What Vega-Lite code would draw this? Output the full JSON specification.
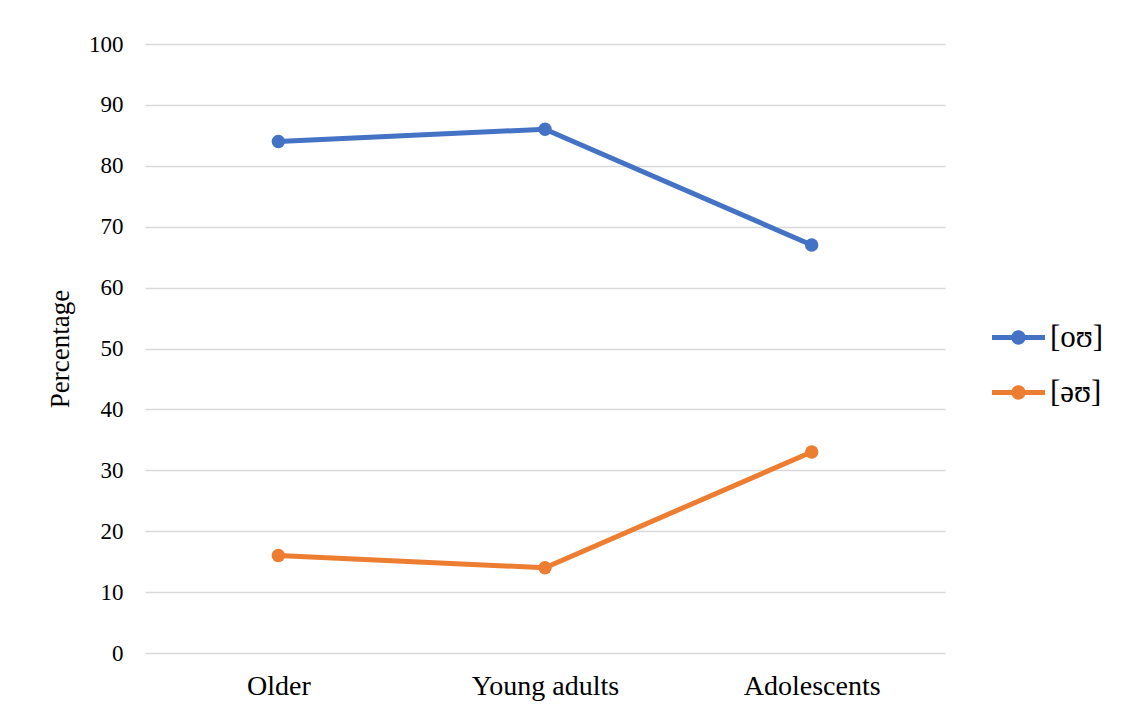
{
  "$schema": "https://vega.github.io/schema/vega-lite/v6.json",
  "width": 800,
  "height": 609,
  "autosize": {"type": "none"},
  "padding": {"left": 145, "top": 44, "right": 185, "bottom": 60},
  "background": "white",
  "config": {
    "font": "Liberation Serif",
    "view": {"stroke": null},
    "axis": {"labelFont": "Liberation Serif", "titleFont": "Liberation Serif", "labelColor": "#000000", "titleColor": "#000000"},
    "legend": {"labelFont": "Liberation Serif", "labelColor": "#000000"}
  },
  "data": {
    "values": [
      {"group": "Older", "variant": "[oʊ]", "pct": 84},
      {"group": "Young adults", "variant": "[oʊ]", "pct": 86},
      {"group": "Adolescents", "variant": "[oʊ]", "pct": 67},
      {"group": "Older", "variant": "[əʊ]", "pct": 16},
      {"group": "Young adults", "variant": "[əʊ]", "pct": 14},
      {"group": "Adolescents", "variant": "[əʊ]", "pct": 33}
    ]
  },
  "encoding": {
    "x": {
      "field": "group", "type": "nominal", "sort": ["Older", "Young adults", "Adolescents"],
      "scale": {"type": "point", "padding": 0.5},
      "axis": {"title": null, "labelAngle": 0, "labelFontSize": 28, "labelPadding": 19, "ticks": false, "domain": false, "grid": false}
    },
    "y": {
      "field": "pct", "type": "quantitative",
      "scale": {"domain": [0, 100]},
      "axis": {"title": "Percentage", "titleFontSize": 27, "titleFontWeight": "normal", "titlePadding": 14, "labelFontSize": 23, "labelPadding": 22, "labelOverlap": false, "values": [0,10,20,30,40,50,60,70,80,90,100], "ticks": false, "domain": false, "gridColor": "#d9d9d9", "gridWidth": 1.5}
    },
    "color": {
      "field": "variant", "type": "nominal", "sort": ["[oʊ]", "[əʊ]"],
      "scale": {"domain": ["[oʊ]", "[əʊ]"], "range": ["#4472C4", "#ED7D31"]},
      "legend": {
        "title": null, "orient": "none", "legendX": 847, "legendY": 267,
        "labelFontSize": 31, "labelOffset": 5, "rowPadding": 13,
        "symbolType": "M-1,-0.095L1,-0.095L1,0.095L-1,0.095Z M0,-0.27A0.27,0.27 0 1,1 0,0.27A0.27,0.27 0 1,1 0,-0.27Z",
        "symbolSize": 2809, "symbolStrokeWidth": 0,
        "encode": {"symbols": {"update": {"fill": {"scale": "color", "field": "value"}, "fillOpacity": {"value": 1}}}}
      }
    }
  },
  "layer": [
    {"mark": {"type": "line", "strokeWidth": 5}},
    {"mark": {"type": "circle", "size": 180, "opacity": 1}}
  ]
}
